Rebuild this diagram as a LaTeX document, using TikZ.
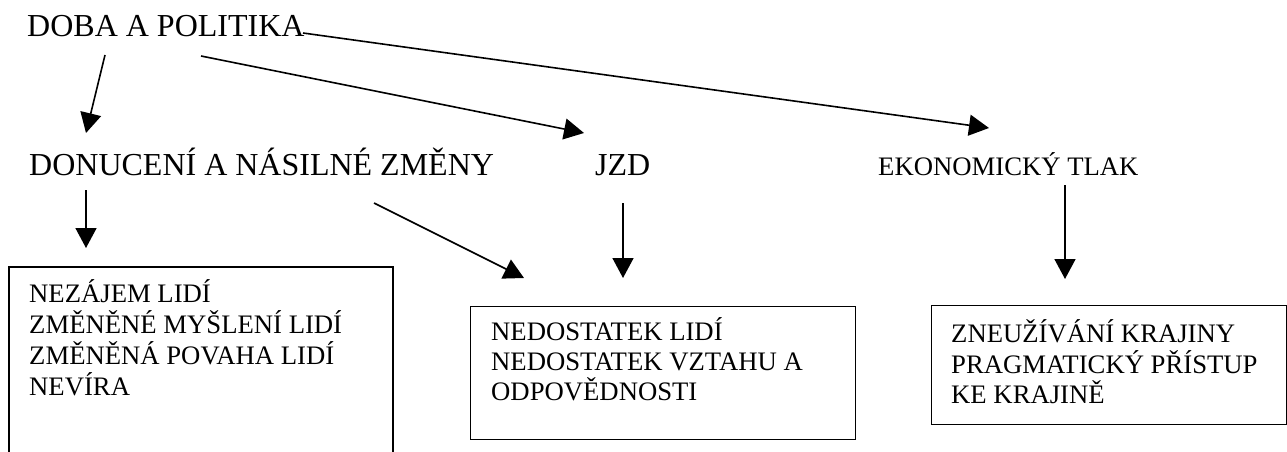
\documentclass[tikz,border=0pt]{standalone}
\usepackage{fontspec}
\setmainfont{Liberation Serif}
\usetikzlibrary{arrows.meta}
\begin{document}
\begin{tikzpicture}[x=1pt,y=-1pt,
  big/.style={anchor=base west, inner sep=0pt, font=\fontsize{32}{36}\selectfont},
  small/.style={anchor=base west, inner sep=0pt, font=\fontsize{26.7}{30}\selectfont},
  arr/.style={line width=1.6pt, -{Triangle[length=20pt,width=21pt]}},
  frame/.style={line width=1.2pt}]
\useasboundingbox (0,0) rectangle (1287,452);

% titles
\node[big] (doba) at (27,37) {DOBA A POLITIKA};
\node[big] (donuc) at (29,175) {DONUCENÍ A NÁSILNÉ ZMĚNY};
\node[big] (jzd) at (595,175) {JZD};
\node[small] (ekon) at (878,175) {EKONOMICKÝ TLAK};

% boxes
\coordinate (b1a) at (9,455);
\coordinate (b1b) at (9,267);
\coordinate (b1c) at (393,267);
\coordinate (b1d) at (393,455);
\draw[frame] (b1a) -- (b1b) -- (b1c) -- (b1d);
\node[draw, frame, anchor=north west, minimum width=385pt, minimum height=133pt, inner sep=0pt] (box2) at (470,306) {};
\node[draw, frame, anchor=north west, minimum width=355pt, minimum height=119pt, inner sep=0pt] (box3) at (931,305) {};

% box texts
\node[small] (t11) at (29,302) {NEZÁJEM LIDÍ};
\node[small] (t12) at (29,333) {ZMĚNĚNÉ MYŠLENÍ LIDÍ};
\node[small] (t13) at (29,364) {ZMĚNĚNÁ POVAHA LIDÍ};
\node[small] (t14) at (29,395) {NEVÍRA};

\node[small] (t21) at (491,340) {NEDOSTATEK LIDÍ};
\node[small] (t22) at (491,370) {NEDOSTATEK VZTAHU A};
\node[small] (t23) at (491,400) {ODPOVĚDNOSTI};

\node[small] (t31) at (951,342) {ZNEUŽÍVÁNÍ KRAJINY};
\node[small] (t32) at (951,373) {PRAGMATICKÝ PŘÍSTUP};
\node[small] (t33) at (951,403) {KE KRAJINĚ};

% arrow end points
\coordinate (a1s) at (105,55);
\coordinate (a1e) at (86,133);
\coordinate (a2s) at (201,56);
\coordinate (a2e) at (584,133);
\coordinate (a3s) at (303,33);
\coordinate (a3e) at (989,128);
\coordinate (a4s) at (86,190);
\coordinate (a4e) at (86,248);
\coordinate (a5s) at (374,203);
\coordinate (a5e) at (524,278);
\coordinate (a6s) at (623,203);
\coordinate (a6e) at (623,278);
\coordinate (a7s) at (1065,185);
\coordinate (a7e) at (1065,279);

\draw[arr] (a1s) -- (a1e);
\draw[arr] (a2s) -- (a2e);
\draw[arr] (a3s) -- (a3e);
\draw[arr] (a4s) -- (a4e);
\draw[arr] (a5s) -- (a5e);
\draw[arr] (a6s) -- (a6e);
\draw[arr] (a7s) -- (a7e);
\end{tikzpicture}
\end{document}
